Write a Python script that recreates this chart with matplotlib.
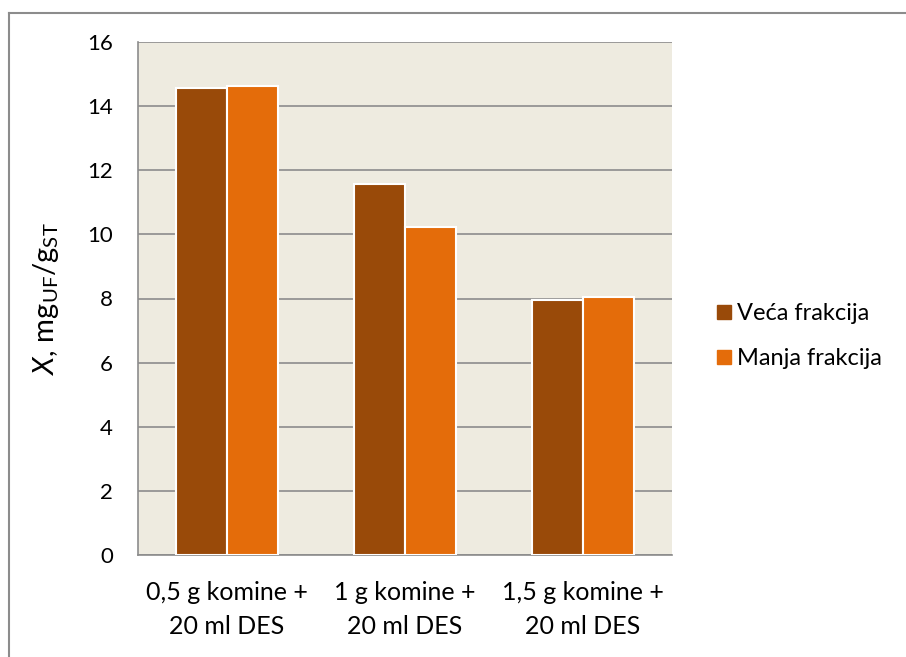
import matplotlib
matplotlib.use("Agg")
import matplotlib.pyplot as plt
from matplotlib.lines import Line2D
import numpy as np

categories = ["0,5 g komine +\n20 ml DES", "1 g komine +\n20 ml DES", "1,5 g komine +\n20 ml DES"]
series_names = ["Veća frakcija", "Manja frakcija"]
veca = [14.56, 11.57, 7.95]
manja = [14.62, 10.22, 8.06]
yticks = [0, 2, 4, 6, 8, 10, 12, 14, 16]

colors = ["#994A09", "#E46C0A"]

plt.rcParams['font.family'] = ['Lato', 'DejaVu Sans']
plt.rcParams['mathtext.fontset'] = 'custom'
plt.rcParams['mathtext.rm'] = 'Lato'
plt.rcParams['mathtext.it'] = 'Lato:italic'

fig = plt.figure(figsize=(9.06, 6.57), dpi=100)
ax = fig.add_axes([138/906, 1-555/657, (672-138)/906, (555-42)/657])
ax.set_facecolor("#EEEBE0")

x = np.arange(len(categories))
w = 0.285
for i, (vals, name) in enumerate(zip([veca, manja], series_names)):
    ax.bar(x + (i - 0.5) * w, vals, width=w, color=colors[i], edgecolor="white",
           linewidth=1.5, label=name, zorder=3)

ax.set_xlim(-0.5, 2.5)
ax.set_ylim(0, 16)
ax.set_yticks(yticks)
ax.set_yticklabels([str(t) for t in yticks], fontsize=16)
ax.yaxis.grid(True, color="#8C8C8C", linewidth=1.2, zorder=0)
ax.set_axisbelow(True)
ax.set_xticks(x)
ax.set_xticklabels(categories, fontsize=18, linespacing=1.55)
ax.tick_params(axis="y", length=0, pad=18)
ax.tick_params(axis="x", length=0, pad=19)
for s in ["top", "right"]:
    ax.spines[s].set_visible(False)
ax.spines["left"].set_color("#8C8C8C")
ax.spines["bottom"].set_color("#8C8C8C")
ax.spines["left"].set_linewidth(1.2)
ax.spines["bottom"].set_linewidth(1.2)

ax.set_ylabel(r"$X$, mg$_{\mathrm{UF}}$/g$_{\mathrm{ST}}$", fontsize=21, labelpad=19)

handles = [Line2D([0], [0], marker="s", linestyle="none", markersize=10,
                  markerfacecolor=c, markeredgecolor=c) for c in colors]
fig.legend(handles, series_names, loc="center left", bbox_to_anchor=(693/906, 1-336/657),
           frameon=False, fontsize=17, handletextpad=0.15, labelspacing=1.0,
           handlelength=0.8)

# outer border
fig.add_artist(Line2D([8.5/906, 8.5/906], [0, 1-12.5/657], transform=fig.transFigure,
                      color="#8C8C8C", linewidth=1.5))
fig.add_artist(Line2D([8.5/906, 1], [1-12.5/657, 1-12.5/657], transform=fig.transFigure,
                      color="#8C8C8C", linewidth=1.5))

fig.savefig("out.png", dpi=100)
